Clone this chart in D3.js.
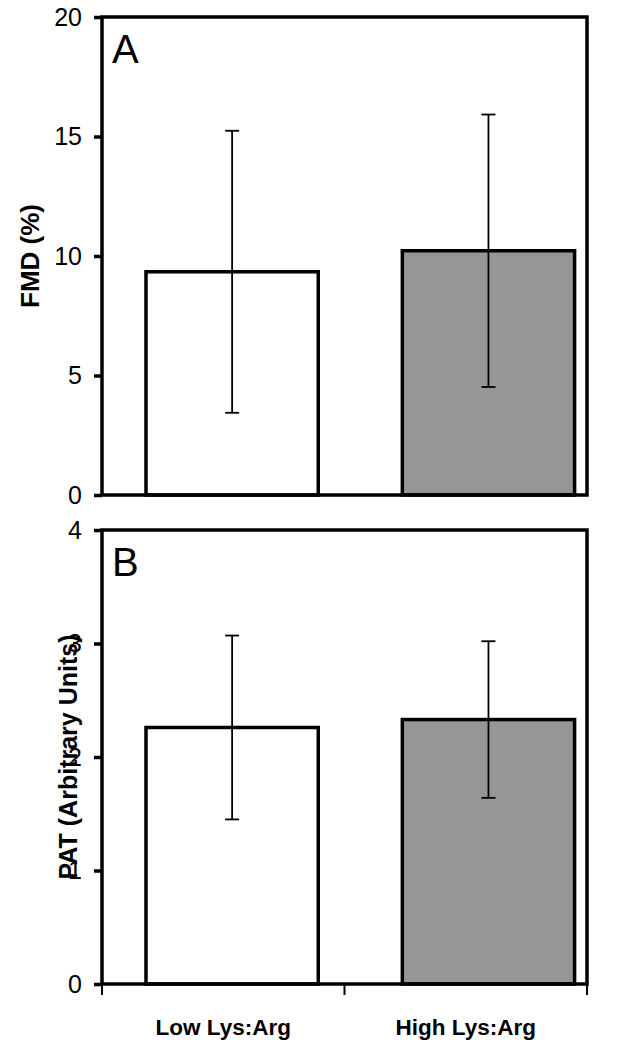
<!DOCTYPE html>
<html>
<head>
<meta charset="utf-8">
<script src="https://cdn.jsdelivr.net/npm/d3@7"></script>
<style>
  body { margin: 0; background: #fff; }
  svg { display: block; font-family: "Liberation Sans", Arial, sans-serif; }
</style>
</head>
<body>
<svg id="chart" width="636" height="1050"></svg>
<script>
// data
var categories = ["Low Lys:Arg", "High Lys:Arg"];
var fmdMean = [9.34, 10.22];
var fmdErr = [5.9, 5.7];
var patMean = [2.26, 2.33];
var patErr = [0.81, 0.69];
var fmdTicks = [0, 5, 10, 15, 20];
var patTicks = [0, 1, 2, 3, 4];
var barFill = ["#ffffff", "#969696"];

var svg = d3.select("#chart");
var left = 102, right = 587;

// x for the category axis (ticks at the boundaries) and for bars
var xAxisScale = d3.scaleBand().domain(categories).range([left, right]);
var xBar = d3.scaleBand().domain(categories).range([left, right])
	.paddingInner(0.328).paddingOuter(0.11).align(0.78);

// one panel
function panel(top, bottom, maxY, ticks, means, errs, letter, title, titleX, titleSize) {
	var y = d3.scaleLinear().domain([0, maxY]).range([bottom, top]);
	var g = svg.append("g");

	// bars
	g.selectAll("rect.bar")
		.data(means)
		.enter()
		.append("rect")
		.attr("class", "bar")
		.attr("x", function(d, i){ return xBar(categories[i]); })
		.attr("y", function(d){ return y(d); })
		.attr("width", xBar.bandwidth())
		.attr("height", function(d){ return y(0) - y(d); })
		.attr("fill", function(d, i){ return barFill[i]; })
		.attr("stroke", "#000")
		.attr("stroke-width", 3.5);

	// error bars
	var eb = g.selectAll("g.err")
		.data(means)
		.enter()
		.append("g")
		.attr("class", "err");
	eb.append("line")
		.attr("x1", function(d, i){ return xBar(categories[i]) + xBar.bandwidth()/2; })
		.attr("x2", function(d, i){ return xBar(categories[i]) + xBar.bandwidth()/2; })
		.attr("y1", function(d, i){ return y(d + errs[i]); })
		.attr("y2", function(d, i){ return y(d - errs[i]); });
	eb.selectAll("line.cap")
		.data(function(d, i){ return [[i, d + errs[i]], [i, d - errs[i]]]; })
		.enter()
		.append("line")
		.attr("class", "cap")
		.attr("x1", function(d){ return xBar(categories[d[0]]) + xBar.bandwidth()/2 - 7; })
		.attr("x2", function(d){ return xBar(categories[d[0]]) + xBar.bandwidth()/2 + 7; })
		.attr("y1", function(d){ return y(d[1]); })
		.attr("y2", function(d){ return y(d[1]); });
	eb.selectAll("line").attr("stroke", "#000").attr("stroke-width", 1.8);

	// frame
	g.append("rect")
		.attr("x", left).attr("y", top)
		.attr("width", right - left).attr("height", bottom - top)
		.attr("fill", "none").attr("stroke", "#000").attr("stroke-width", 3.5);

	// y axis
	var ax = g.append("g")
		.attr("transform", "translate(" + left + ",0)")
		.call(d3.axisLeft(y).tickValues(ticks).tickFormat(d3.format("d")).tickSize(8).tickPadding(12));
	ax.select(".domain").remove();
	ax.selectAll(".tick line").attr("stroke", "#000").attr("stroke-width", 3.5);
	ax.selectAll(".tick text")
		.attr("font-size", 25)
		.attr("fill", "#000")
		.attr("font-family", "Liberation Sans, Arial, sans-serif");

	// axis title
	g.append("text")
		.attr("transform", "translate(" + titleX + "," + ((top + bottom)/2) + ") rotate(-90)")
		.attr("text-anchor", "middle")
		.attr("font-size", titleSize)
		.attr("font-weight", "bold")
		.text(title);

	// panel letter
	g.append("text")
		.attr("x", left + 10)
		.attr("y", top + 46)
		.attr("font-size", 40)
		.text(letter);

	return {g: g, y: y};
}

panel(17, 495, 20, fmdTicks, fmdMean, fmdErr, "A", "FMD (%)", 39, 26);
panel(530, 984, 4, patTicks, patMean, patErr, "B", "PAT (Arbitrary Units)", 77, 25);

// category axis under panel B: ticks at the category boundaries
var bounds = [left].concat(categories.map(function(c){ return xAxisScale(c) + xAxisScale.bandwidth(); }));
svg.append("g")
	.attr("transform", "translate(0,984)")
	.selectAll("line")
	.data(bounds)
	.enter()
	.append("line")
	.attr("x1", function(d){ return d; })
	.attr("x2", function(d){ return d; })
	.attr("y1", 0).attr("y2", 11)
	.attr("stroke", "#000").attr("stroke-width", 2);

svg.selectAll("text.cat")
	.data(categories)
	.enter()
	.append("text")
	.attr("class", "cat")
	.attr("x", function(d){ return xAxisScale(d) + xAxisScale.bandwidth()/2; })
	.attr("y", 1035)
	.attr("text-anchor", "middle")
	.attr("font-size", 22.5)
	.attr("font-weight", "bold")
	.text(function(d){ return d; });
</script>
</body>
</html>
